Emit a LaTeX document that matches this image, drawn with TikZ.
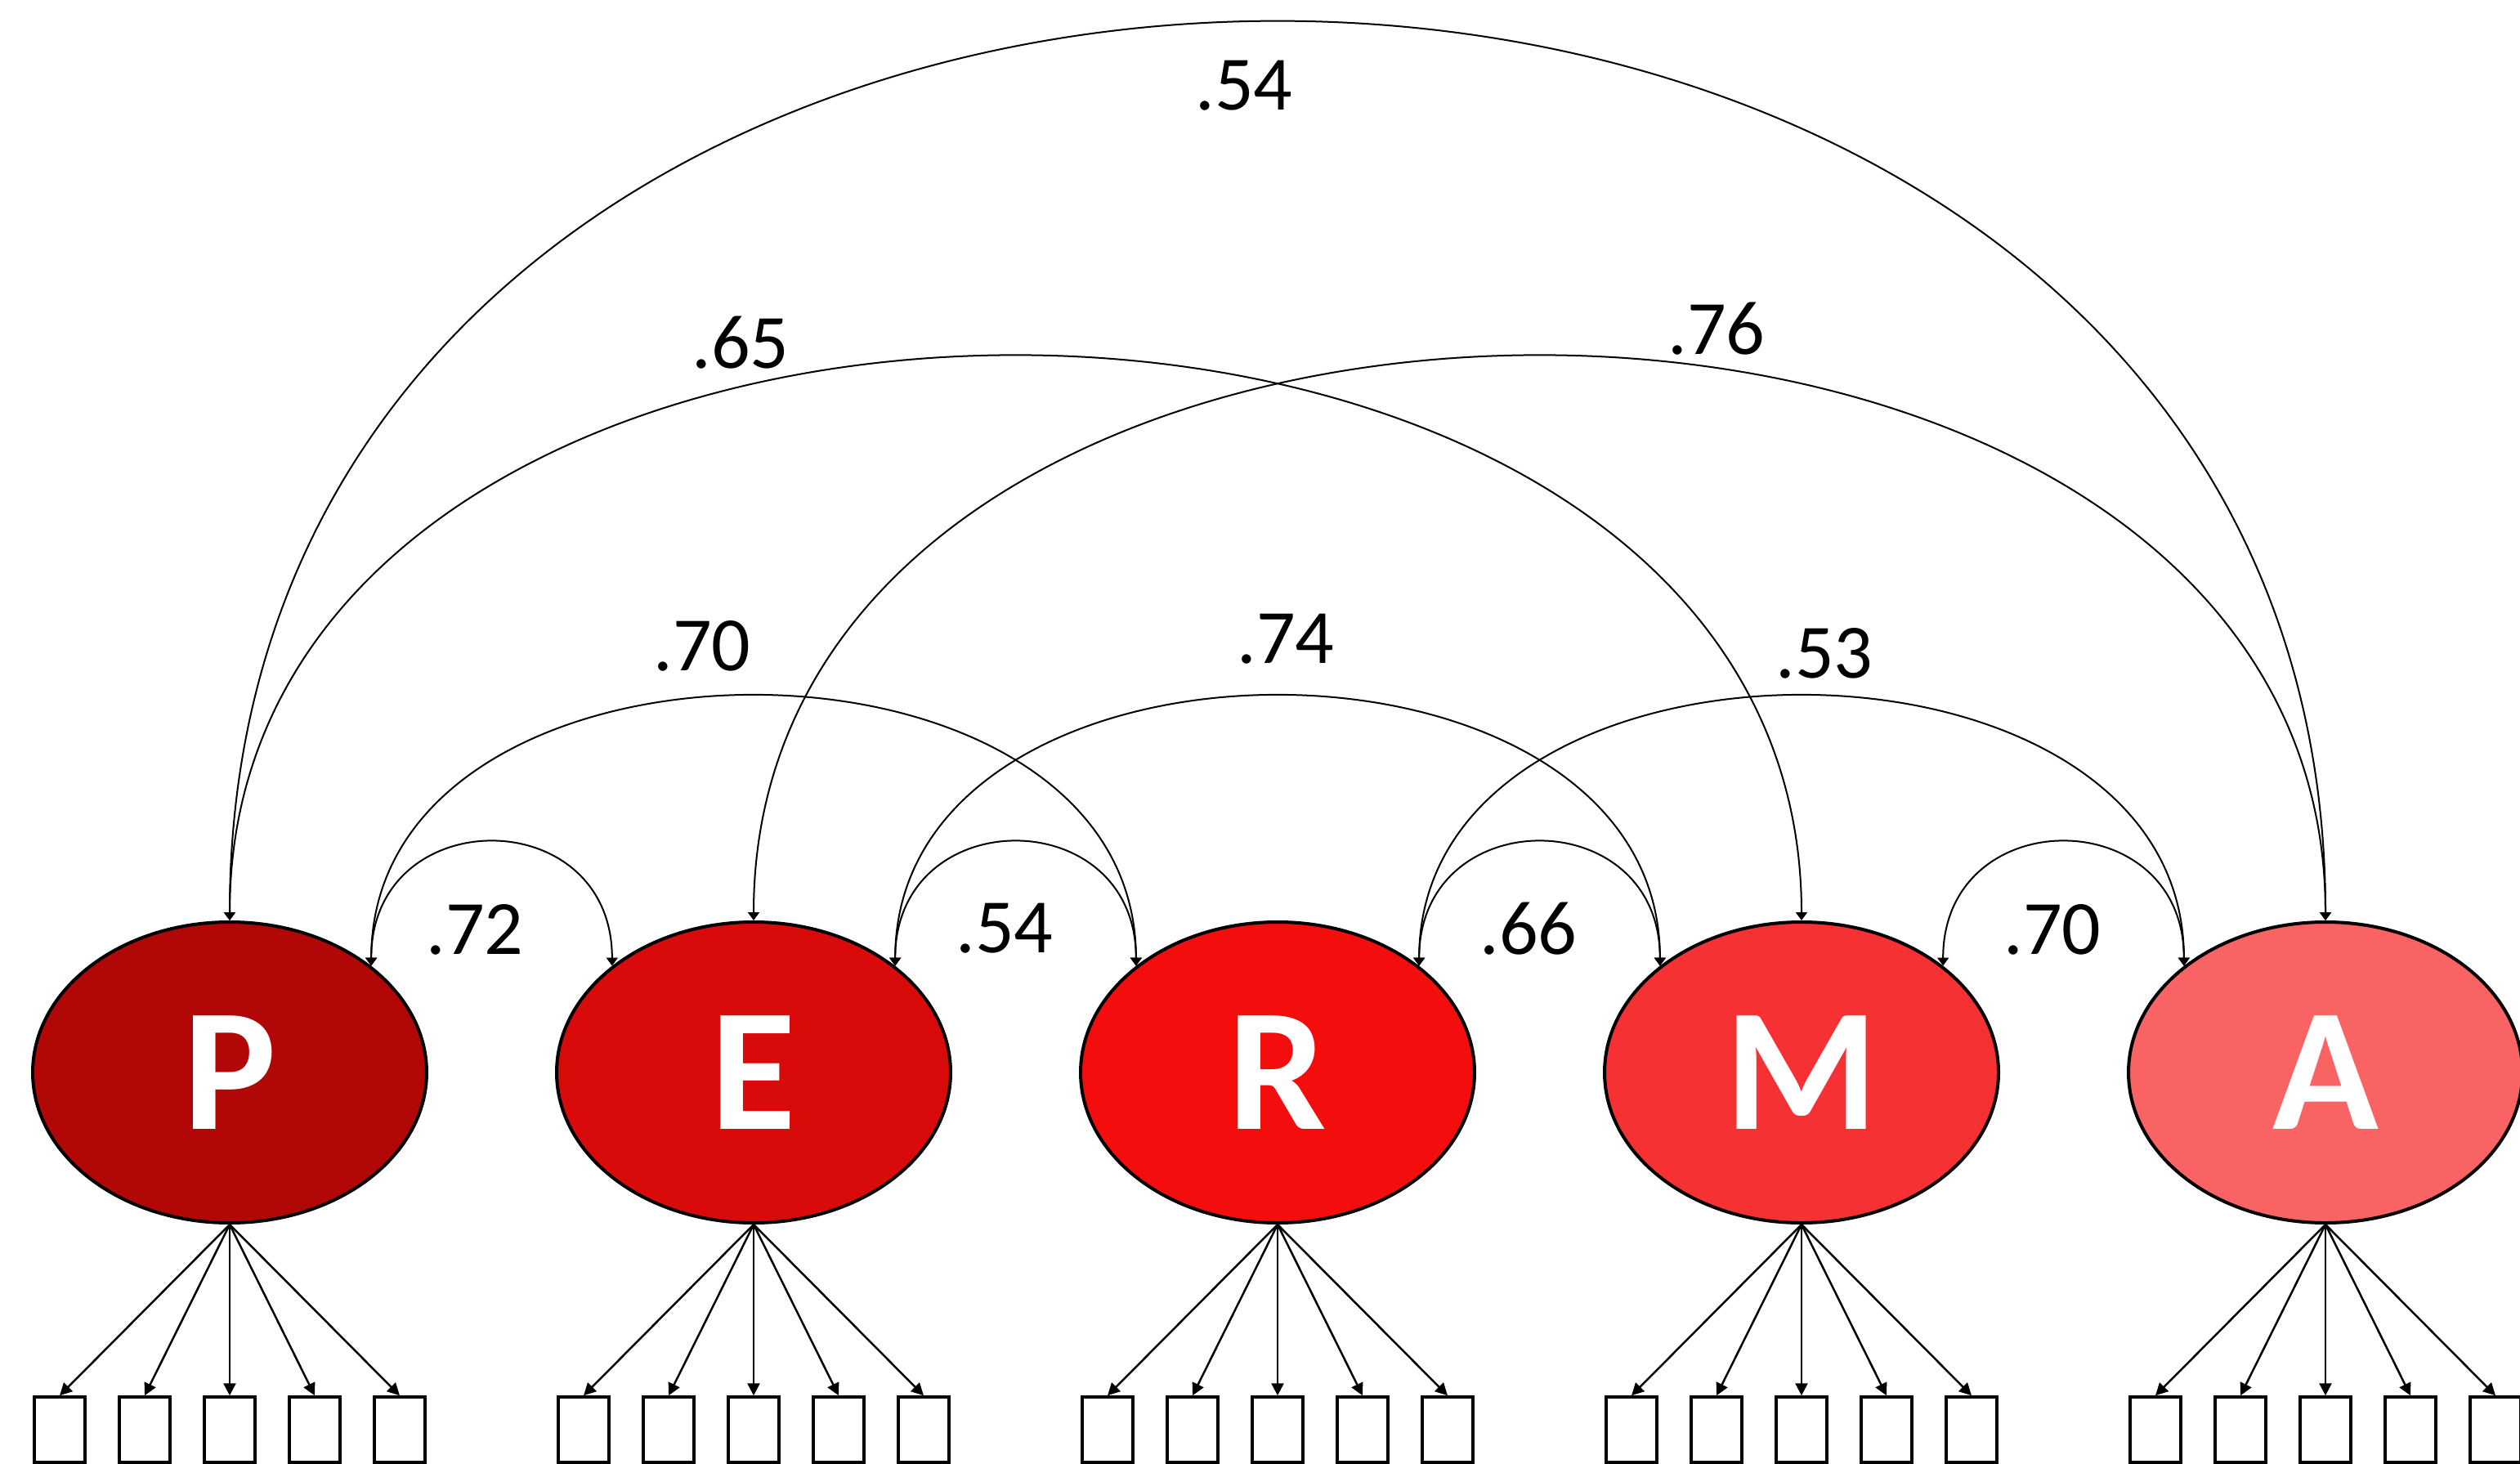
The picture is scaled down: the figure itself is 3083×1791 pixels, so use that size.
\documentclass[tikz,border=0pt]{standalone}
\usepackage{fontspec}
\setmainfont{Carlito}
\usetikzlibrary{shapes.geometric,arrows.meta,calc}

\definecolor{colP}{RGB}{178,7,7}
\definecolor{colE}{RGB}{216,10,10}
\definecolor{colR}{RGB}{243,13,13}
\definecolor{colM}{RGB}{246,49,51}
\definecolor{colA}{RGB}{249,99,99}

\begin{document}
\begin{tikzpicture}[x=0.5pt,y=-0.5pt,
  latent/.style={ellipse, draw=black, line width=2pt, minimum width=241pt,
    minimum height=184pt, inner sep=0pt, text=white,
    font=\fontsize{107}{107}\selectfont\bfseries},
  item/.style={rectangle, draw=black, line width=1.75pt, minimum width=31pt,
    minimum height=40pt, inner sep=0pt},
  load/.style={line width=1.25pt, -{Triangle[length=7.5pt,width=7.5pt]}},
  cov/.style={line width=1pt,
    {Triangle[length=5pt,width=7pt]}-{Triangle[length=5pt,width=7pt]}},
  coef/.style={font=\fontsize{47}{47}\selectfont, inner sep=0pt}
]
\useasboundingbox (0,0) rectangle (3083,1791);

% latent factors
\node[latent, fill=colP] (P) at (281,1312) {P};
\node[latent, fill=colE] (E) at (922,1312) {E};
\node[latent, fill=colR] (R) at (1563,1312) {R};
\node[latent, fill=colM] (M) at (2204,1312) {M};
\node[latent, fill=colA] (A) at (2845,1312) {A};

% indicators and loadings
\foreach \f/\x in {P/281,E/922,R/1563,M/2204,A/2845} {
  \foreach \i/\d in {1/-208,2/-104,3/0,4/104,5/208} {
    \node[item] (\f\i) at (\x+\d,1749) {};
    \draw[load] (\f.south) -- (\f\i.north);
  }
}

% correlations between neighbours
\draw[cov] (P.37) .. controls +(0,-201) and +(0,-201) .. (E.143);
\draw[cov] (E.37) .. controls +(0,-201) and +(0,-201) .. (R.143);
\draw[cov] (R.37) .. controls +(0,-201) and +(0,-201) .. (M.143);
\draw[cov] (M.37) .. controls +(0,-201) and +(0,-201) .. (A.143);

% correlations two apart
\draw[cov] (P.37) .. controls +(0,-439) and +(0,-439) .. (R.143);
\draw[cov] (E.37) .. controls +(0,-439) and +(0,-439) .. (M.143);
\draw[cov] (R.37) .. controls +(0,-439) and +(0,-439) .. (A.143);

% correlations three apart
\draw[cov] (P.north) .. controls +(0,-919) and +(0,-919) .. (M.north);
\draw[cov] (E.north) .. controls +(0,-919) and +(0,-919) .. (A.north);

% correlation four apart
\draw[cov] (P.north) .. controls +(0,-1464) and +(0,-1464) .. (A.north);

% coefficients
\node[coef] (c1) at (1522,105) {.54};
\node[coef] (c2) at (906,419) {.65};
\node[coef] (c3) at (2100,402) {.76};
\node[coef] (c4) at (859,790) {.70};
\node[coef] (c5) at (1573,782) {.74};
\node[coef] (c6) at (2232,799) {.53};
\node[coef] (c7) at (581,1137) {.72};
\node[coef] (c8) at (1229,1136) {.54};
\node[coef] (c9) at (1870,1136) {.66};
\node[coef] (c10) at (2511,1137) {.70};
\end{tikzpicture}
\end{document}
